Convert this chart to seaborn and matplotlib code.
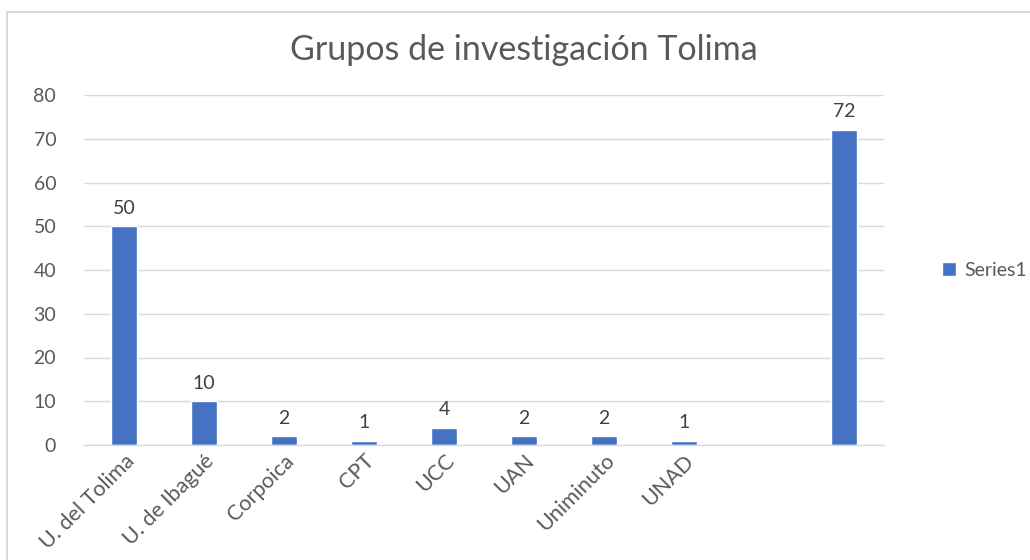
import matplotlib
matplotlib.use("Agg")
import matplotlib.pyplot as plt
import seaborn as sns
import pandas as pd
import numpy as np
from matplotlib.patches import Rectangle

# Datos del gráfico
categorias = ["U. del Tolima", "U. de Ibagué", "Corpoica", "CPT", "UCC",
              "UAN", "Uniminuto", "UNAD", "", " "]
valores = [50, 10, 2, 1, 4, 2, 2, 1, np.nan, 72]
serie = "Series1"

df = pd.DataFrame({"categoria": categorias, "valor": valores, "serie": serie})

sns.set_theme(style="white")
plt.rcParams['font.family'] = ['Lato', 'DejaVu Sans']

AZUL = "#4472C4"
GRIS_TEXTO = "#595959"
GRIS_LINEA = "#d9d9d9"

fig = plt.figure(figsize=(10.3, 5.6), dpi=100)
ax = fig.add_axes([84 / 1030, 115 / 560, 800 / 1030, 350 / 560])

sns.barplot(data=df, x="categoria", y="valor", hue="serie", order=categorias,
            palette=[AZUL], saturation=1, width=0.33, ax=ax, errorbar=None)

ax.set_ylim(0, 80)
ax.set_yticks(range(0, 81, 10))
ax.set_xlim(-0.5, len(categorias) - 0.5)
ax.yaxis.grid(True, color=GRIS_LINEA, linewidth=1)
ax.set_axisbelow(True)
for s in ["top", "right", "left"]:
    ax.spines[s].set_visible(False)
ax.spines["bottom"].set_color(GRIS_LINEA)
ax.spines["bottom"].set_linewidth(1)

ax.set_xlabel("")
ax.set_ylabel("")
ax.tick_params(axis="y", length=0, labelsize=14, labelcolor=GRIS_TEXTO, pad=20)
ax.tick_params(axis="x", which="major", length=0, labelsize=15.5,
               labelcolor=GRIS_TEXTO, pad=4)
ax.set_xticks(range(len(categorias)))
ax.set_xticklabels(categorias, rotation=45, ha="right", rotation_mode="anchor")
ax.set_xticks(np.arange(-0.5, len(categorias), 1), minor=True)
ax.tick_params(axis="x", which="minor", length=6, color=GRIS_LINEA, width=1)

# Etiquetas de datos
for c in ax.containers:
    etiquetas = ["" if np.isnan(v) else f"{int(v)}" for v in c.datavalues]
    ax.bar_label(c, labels=etiquetas, padding=7, fontsize=14, color="#404040")

fig.text(524 / 1030, 1 - 50 / 560, "Grupos de investigación Tolima",
         ha="center", va="center", fontsize=24.5, color=GRIS_TEXTO)

leg = ax.legend(loc="center left", bbox_to_anchor=(1.05, 0.5), frameon=False,
                fontsize=14, handlelength=0.75, handleheight=0.75,
                handletextpad=0.4)
for t in leg.get_texts():
    t.set_color(GRIS_TEXTO)

# Marco del gráfico
fig.patches.append(Rectangle((7 / 1030, -0.1), 1.2, 1 - 12 / 560 + 0.1,
                             transform=fig.transFigure, fill=False,
                             edgecolor=GRIS_LINEA, linewidth=1.5))

fig.savefig("out.png", dpi=100)
